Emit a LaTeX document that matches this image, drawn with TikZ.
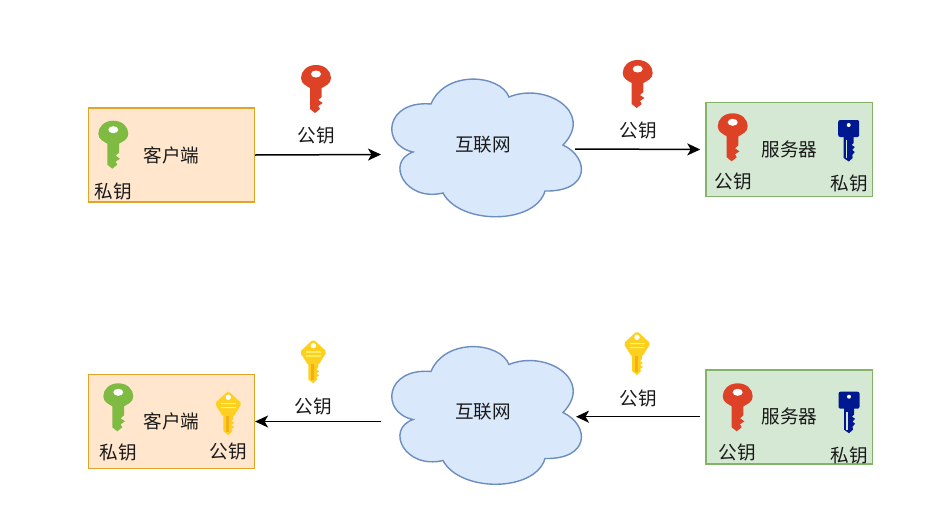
\documentclass[tikz,border=0pt]{standalone}
\usepackage{fontspec}
\usepackage{xcolor}
\setmainfont{Noto Sans CJK SC}
\usetikzlibrary{arrows.meta}
\definecolor{keyred}{HTML}{DD4126}
\definecolor{keygreen}{HTML}{7FBA42}
\definecolor{keyyellow}{HTML}{FDD01F}
\definecolor{keyorange}{HTML}{F6AE17}
\definecolor{keyblue}{HTML}{00188F}
\definecolor{clientfill}{HTML}{FFE6CC}
\definecolor{clientline}{HTML}{E0A526}
\definecolor{serverfill}{HTML}{D5E8D4}
\definecolor{serverline}{HTML}{82B366}
\definecolor{cloudfill}{HTML}{DAE8FC}
\definecolor{cloudline}{HTML}{6C8EBF}
\tikzset{
  txt/.style={font=\fontsize{18.6}{20}\selectfont,text=black!90,inner sep=0pt},
  clientbox/.style={txt,draw=clientline,fill=clientfill,line width=1.6pt,minimum width=166pt,minimum height=94pt},
  serverbox/.style={txt,draw=serverline,fill=serverfill,line width=1.6pt,minimum width=166.5pt,minimum height=94pt},
  link/.style={line width=1.5pt,black,-{Stealth[length=13pt,width=12pt,inset=3.5pt]}},
  roundkey/.pic={
    \fill[#1](0,0)..controls (9,0) and (15,6)..(15,13)..controls (15,19) and (9,21)..(5.7,23)
      --(5.7,32)--(2.3,35)--(6.7,38)--(2.3,41)--(4,44)--(-1,48)--(-6,44)--(-6,23)
      ..controls (-9,21) and (-15,19)..(-15,13)..controls (-15,6) and (-9,0)..(0,0)--cycle;
    \fill[white](0,9)ellipse[x radius=5,y radius=3.5];
  },
  yellowkey/.pic={
    \fill[keyyellow,rounded corners=2pt](0,0)--(13.5,12.5)--(5,26)--(-5,26)--(-13.5,12.5)--cycle;
    \fill[white](0,6.3)circle[radius=2.7];
    \fill[keyyellow](-5,24)--(5,24)--(5,28)--(3,30)--(6,32)--(3,34)--(6,36)--(3,38)--(4,40)--(0,44)--(-5,40)--cycle;
    \fill[keyorange](-2.5,25)rectangle(1,41);
    \fill[yellow!50!white](-7.5,12)rectangle(7.5,13.2)(-7.5,16)rectangle(7.5,17.2);
  },
  bluekey/.pic={
    \fill[keyblue,rounded corners=2pt](-10.5,0)rectangle(10.5,17);
    \fill[white](0,5)circle[radius=2];
    \fill[keyblue](-5,16)--(5,16)--(5,23)--(3,25)--(6,27)--(3.5,30)--(6,32)--(3.5,35)--(4,38)--(0,41.5)--(-5,38)--cycle;
    \fill[serverfill](-3.2,20)rectangle(-1.4,38);
  },
  cloudpic/.pic={
    \draw[draw=cloudline,fill=cloudfill,line width=1.4pt]
      (431,104)..controls (445,70) and (500,74)..(509,97)
      ..controls (545,82) and (595,112)..(563,145)
      ..controls (590,158) and (590,192)..(545,191)
      ..controls (535,225) and (460,225)..(443,193)
      ..controls (405,202) and (385,162)..(413,152)
      ..controls (380,145) and (385,100)..(431,104)--cycle;
  }
}
\begin{document}
\begin{tikzpicture}[x=1pt,y=-1pt]
\useasboundingbox (0,0) rectangle (947,517);
\fill[white](0,0) rectangle (947,517);
% top row
\node[clientbox] (clientA) at (171.3,155) {客户端};
\node[serverbox] (serverA) at (789.3,149.5) {服务器};
\pic at (0,0) {cloudpic};
\node[txt] (netA) at (483,145) {互联网};
\pic at (113.3,120.7) {roundkey=keygreen};
\pic at (316,65) {roundkey=keyred};
\pic at (637.7,60) {roundkey=keyred};
\pic at (732.7,113.3) {roundkey=keyred};
\pic at (848.7,120) {bluekey};
\node[txt] (privA) at (113,191) {私钥};
\node[txt] (pubA) at (316,135) {公钥};
\node[txt] (pubB) at (638,130) {公钥};
\node[txt] (pubC) at (733,181) {公钥};
\node[txt] (privB) at (849,183) {私钥};
\coordinate (inA) at (381,154.5);
\coordinate (outA) at (575,149);
\draw[link] (clientA.east) -- (inA);
\draw[link,shorten >=5pt] (outA) -- (serverA.west);
% bottom row
\node[clientbox] (clientB) at (171.3,421.5) {客户端};
\node[serverbox] (serverB) at (789.3,416.7) {服务器};
\pic at (0,267.5) {cloudpic};
\node[txt] (netB) at (483,412) {互联网};
\pic at (118.3,383.3) {roundkey=keygreen};
\pic at (228.3,391) {yellowkey};
\pic at (313.3,339.3) {yellowkey};
\pic at (637,331) {yellowkey};
\pic at (737.7,383.3) {roundkey=keyred};
\pic at (849,391.7) {bluekey};
\node[txt] (privC) at (118,452) {私钥};
\node[txt] (pubD) at (228,451) {公钥};
\node[txt] (pubE) at (313,406) {公钥};
\node[txt] (pubF) at (638,398) {公钥};
\node[txt] (pubG) at (737,452) {公钥};
\node[txt] (privD) at (849,455) {私钥};
\coordinate (outB) at (381,421.5);
\coordinate (inB) at (576,416.7);
\draw[link] (outB) -- (clientB.east);
\draw[link,shorten <=5pt] (serverB.west) -- (inB);
\end{tikzpicture}
\end{document}
